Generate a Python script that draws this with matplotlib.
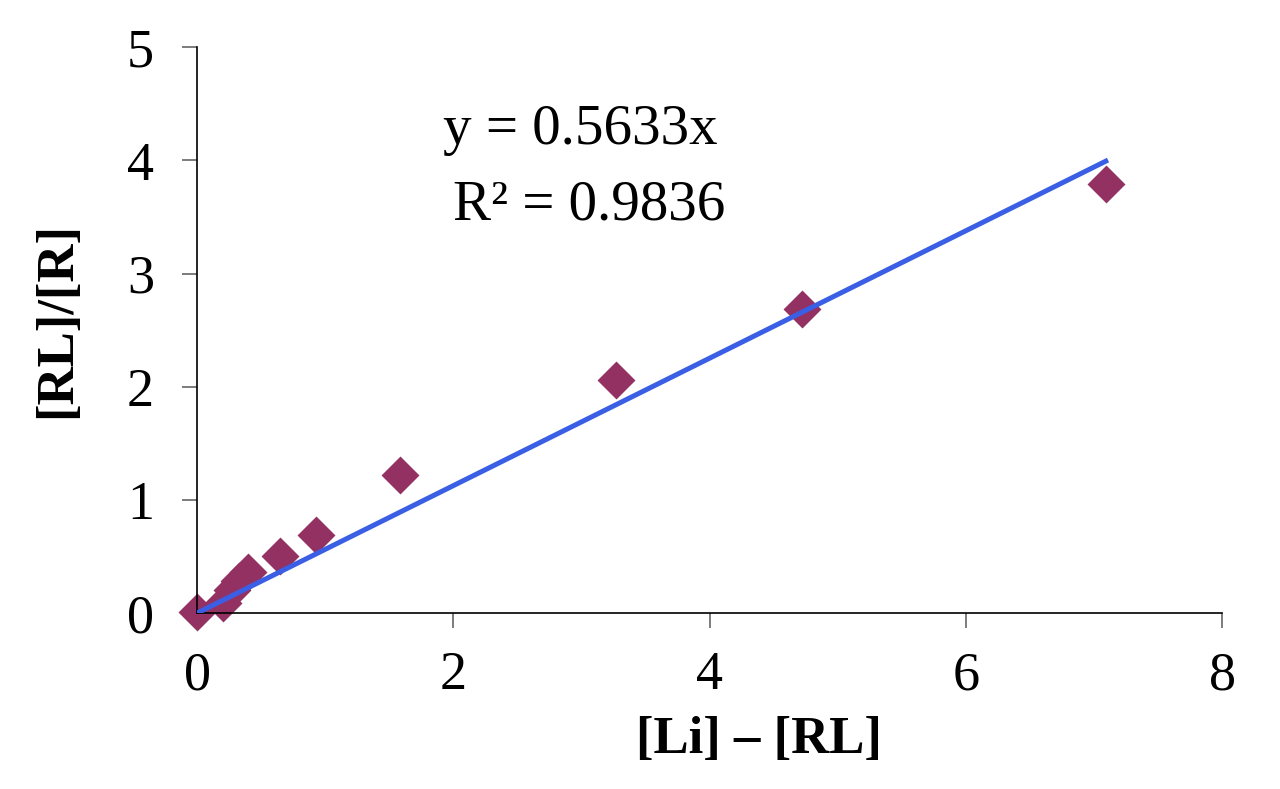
import numpy as np
import matplotlib
matplotlib.use('Agg')
from matplotlib import pyplot as plt

# data
li_minus_rl = [0.0, 0.20, 0.27, 0.33, 0.40, 0.65, 0.93, 1.58, 3.27, 4.72, 7.09]
rl_over_r = [0.01, 0.09, 0.20, 0.28, 0.36, 0.50, 0.69, 1.22, 2.06, 2.69, 3.79]
slope = 0.5633
r_squared = 0.9836
x_ticks = [0, 2, 4, 6, 8]
y_ticks = [0, 1, 2, 3, 4, 5]

plt.rcParams['font.family'] = ['Liberation Serif', 'DejaVu Serif']

fig = plt.figure(figsize=(12.8, 7.89), dpi=100)
ax = fig.add_axes([0.154, 0.223, 0.801, 0.717])

x = np.array(li_minus_rl)
fit_x = np.array([x.min(), x.max()])
ax.plot(fit_x, slope * fit_x, color='#3A5FE5', lw=3.6, zorder=3)
ax.plot(x, rl_over_r, linestyle='none', marker='D', ms=17, color='#933163',
        mec='#933163', mew=2, zorder=2, clip_on=False)

ax.set_xlim(0, 8)
ax.set_ylim(0, 5)
ax.set_xticks(x_ticks)
ax.set_yticks(y_ticks)
ax.tick_params(direction='out', length=11, width=1.2, color='#666666',
               labelsize=39)
ax.tick_params(axis='x', pad=16)
ax.tick_params(axis='y', pad=20)
for s in ['top', 'right']:
    ax.spines[s].set_visible(False)
for s in ['left', 'bottom']:
    ax.spines[s].set_linewidth(1.2)
    ax.spines[s].set_color('black')

ax.set_xlabel('[Li] – [RL]', fontsize=38, fontweight='bold', va='center')
ax.xaxis.set_label_coords(0.548, -0.224)
ax.set_ylabel('[RL]/[R]', fontsize=38, fontweight='bold', va='center')
ax.yaxis.set_label_coords(-0.137, 0.518)

fig.text(0.453, 0.835, 'y = {:.4f}x'.format(slope),
         fontsize=41, ha='center', va='center')
fig.text(0.46, 0.74, 'R² = {:.4f}'.format(r_squared),
         fontsize=41, ha='center', va='center')

plt.savefig('out.png', dpi=100)
